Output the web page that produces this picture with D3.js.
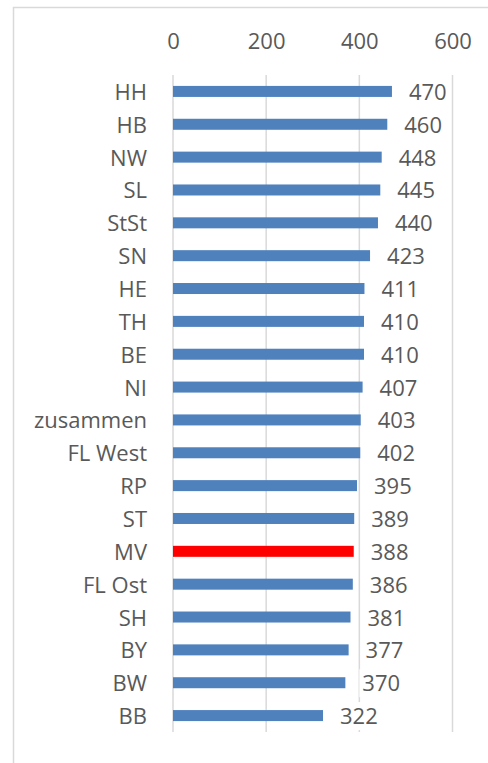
<!DOCTYPE html>
<html>

<head>
  <meta charset="utf-8">
  <title>Balkendiagramm Länder</title>
  <style type="text/css">
    body {
      margin: 0;
      background: #fff;
    }

    svg {
      display: block;
    }

    text {
      font-family: "Open Sans", sans-serif;
      font-size: 22px;
      fill: #595959;
    }
  </style>
  <script type="text/javascript" src="https://cdn.jsdelivr.net/npm/d3@7/dist/d3.min.js"></script>
</head>

<body>
  <script>
    // Daten
    var categories = ['HH', 'HB', 'NW', 'SL', 'StSt', 'SN', 'HE', 'TH', 'BE', 'NI',
      'zusammen', 'FL West', 'RP', 'ST', 'MV', 'FL Ost', 'SH', 'BY', 'BW', 'BB'];
    var values = [470, 460, 448, 445, 440, 423, 411, 410, 410, 407,
      403, 402, 395, 389, 388, 386, 381, 377, 370, 322];
    var highlight = ['MV'];
    var tickValues = [0, 200, 400, 600];

    var data = categories.map((c, i) => ({ name: c, value: values[i] }));

    var width = 488, height = 763;

    var svg = d3.select('body').append('svg')
      .attr('width', width)
      .attr('height', height);

    // Rahmen
    svg.append('rect')
      .attr('x', 13.5)
      .attr('y', 7.5)
      .attr('width', 600)
      .attr('height', 800)
      .attr('fill', 'none')
      .attr('stroke', '#d9d9d9')
      .attr('stroke-width', 1.5);

    var x = d3.scaleLinear()
      .domain([0, 600])
      .range([173, 452.5]);

    var y = d3.scaleBand()
      .domain(categories)
      .range([75, 732])
      .paddingInner(0.665)
      .paddingOuter(0.3325);

    var yCenter = d => y(d) + y.bandwidth() / 2;

    // Gitterlinien
    svg.append('g')
      .selectAll('line')
      .data(tickValues)
      .enter()
      .append('line')
      .attr('x1', d => x(d))
      .attr('x2', d => x(d))
      .attr('y1', 75)
      .attr('y2', 732)
      .attr('stroke', '#d9d9d9')
      .attr('stroke-width', 1.5);

    // Achse oben
    var axis = svg.append('g')
      .attr('transform', 'translate(0, 49)')
      .call(d3.axisTop(x).tickValues(tickValues).tickSize(0).tickPadding(0));
    axis.select('.domain').remove();
    axis.selectAll('text')
      .attr('font-family', null)
      .attr('font-size', null)
      .attr('fill', null)
      .attr('dy', 0)
      .attr('y', 0);

    // Balken
    svg.append('g')
      .selectAll('rect')
      .data(data)
      .enter()
      .append('rect')
      .attr('x', x(0))
      .attr('y', d => y(d.name))
      .attr('width', d => x(d.value) - x(0))
      .attr('height', y.bandwidth())
      .attr('fill', d => highlight.includes(d.name) ? '#ff0000' : '#4f81bd');

    // Kategorien
    svg.append('g')
      .selectAll('text')
      .data(data)
      .enter()
      .append('text')
      .attr('x', 147)
      .attr('y', d => yCenter(d.name) + 8.5)
      .attr('text-anchor', 'end')
      .text(d => d.name);

    // Werte mit weißem Hintergrund
    var labels = svg.append('g')
      .selectAll('g')
      .data(data)
      .enter()
      .append('g');

    labels.append('text')
      .attr('x', d => x(d.value) + 17)
      .attr('y', d => yCenter(d.name) + 8.5)
      .text(d => d.value);

    labels.each(function () {
      var g = d3.select(this);
      var b = g.select('text').node().getBBox();
      g.insert('rect', 'text')
        .attr('x', b.x - 3)
        .attr('y', b.y + 2)
        .attr('width', b.width + 6)
        .attr('height', b.height - 2)
        .attr('fill', '#fff');
    });
  </script>
</body>

</html>
